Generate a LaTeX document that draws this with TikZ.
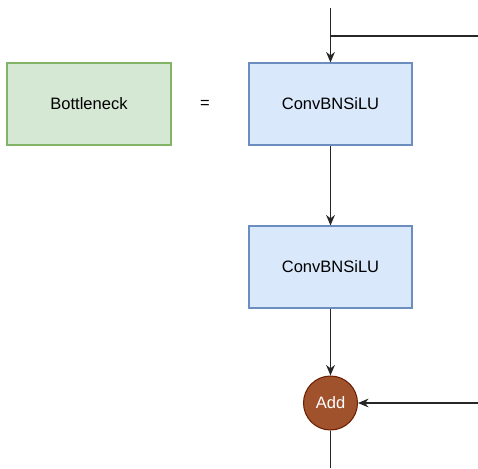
\documentclass[tikz,border=0pt]{standalone}
\usepackage{fontspec}
\setmainfont{Liberation Sans}
\usetikzlibrary{arrows.meta}
\definecolor{greenfill}{HTML}{D5E8D4}
\definecolor{greenline}{HTML}{82B366}
\definecolor{bluefill}{HTML}{DAE8FC}
\definecolor{blueline}{HTML}{6C8EBF}
\definecolor{addfill}{HTML}{A0522D}
\definecolor{addline}{HTML}{6D1F00}

\begin{document}
\begin{tikzpicture}[
    x=0.02cm, y=-0.02cm,
    >={Stealth[length=6pt, width=5pt]},
    font=\fontsize{9.4}{11}\selectfont,
    blockbox/.style={draw=blueline, fill=bluefill, line width=0.6pt,
        minimum width=3.26cm, minimum height=1.64cm},
    namebox/.style={draw=greenline, fill=greenfill, line width=0.6pt,
        minimum width=3.28cm, minimum height=1.64cm},
    addnode/.style={circle, draw=addline, fill=addfill, line width=0.6pt,
        minimum size=1.08cm, inner sep=0pt, text=white},
    wire/.style={line width=0.6pt, black!85}
]

\useasboundingbox (0,0) rectangle (478,468);

% Bloc

\node[namebox] (bottleneck) at (89,104) {Bottleneck};

\node (equals) at (205,104) {=};


% Capes

\node[blockbox] (conv1) at (330.5,104) {ConvBNSiLU};

\node[blockbox] (conv2) at (330.5,267) {ConvBNSiLU};

\node[addnode] (add) at (330.5,403) {Add};


% Connexions

\coordinate (input) at (330.5,8);
\coordinate (branch) at (330.5,36);
\coordinate (skipout) at (478,36);
\coordinate (skipin) at (478,403);
\coordinate (output) at (330.5,468);

\draw[wire, ->] (input) -- (conv1.north);
\draw[wire] (branch) -- (skipout);
\draw[wire, ->] (conv1.south) -- (conv2.north);
\draw[wire, ->] (conv2.south) -- (add.north);
\draw[wire, ->] (skipin) -- (add.east);
\draw[wire] (add.south) -- (output);

\end{tikzpicture}
\end{document}
